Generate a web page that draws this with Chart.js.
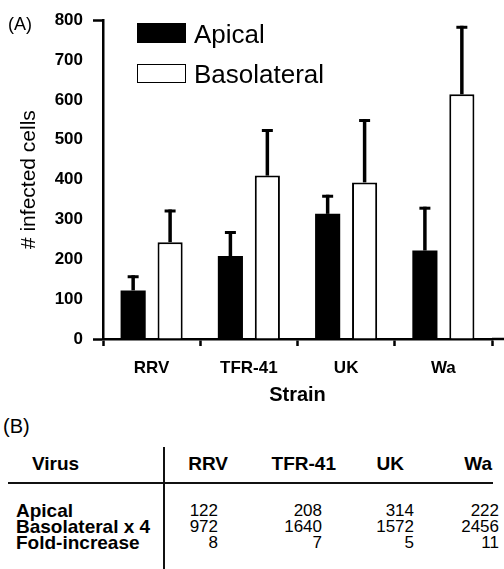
<!DOCTYPE html>
<html>
<head>
<meta charset="utf-8">
<script src="https://cdn.jsdelivr.net/npm/chart.js@4.4.1/dist/chart.umd.min.js"></script>
<style>
body{margin:0;background:#fff;font-family:"Liberation Sans",Arial,sans-serif;color:#000}
#wrap{position:relative;width:504px;height:569px;overflow:hidden;background:#fff}
#chart{position:absolute;left:0;top:0}
.abs{position:absolute;white-space:nowrap}
</style>
</head>
<body>
<div id="wrap">
  <canvas id="chart" width="504" height="410"></canvas>
  <div id="overlay"></div>
</div>
<script>
// Datos del gráfico (A)
const strains=["RRV","TFR-41","UK","Wa"];
const seriesNames=["Apical","Basolateral"];
const apical=[122,208,314,222];
const basolateral=[243,410,393,614];
const apicalErrTop=[160,271,362,332];
const basolateralErrTop=[325,527,552,786];
const yMin=0,yMax=800,yStep=100;

// Datos de la tabla (B)
const tableHead="Virus";
const rowNames=["Apical","Basolateral x 4","Fold-increase"];
const apicalRow=[122,208,314,222];
const basoX4Row=[972,1640,1572,2456];
const foldRow=[8,7,5,11];

const FONT='"Liberation Sans", Arial, sans-serif';

// Barras de error (solo hacia arriba)
const errorBars={id:"errorBars",afterDatasetsDraw(chart){
  const {ctx,scales:{y}}=chart;
  ctx.save();
  ctx.strokeStyle="#000";
  chart.data.datasets.forEach((ds,i)=>{
    chart.getDatasetMeta(i).data.forEach((bar,j)=>{
      const top=y.getPixelForValue(ds.errTop[j]);
      ctx.lineWidth=3.5;
      ctx.beginPath();ctx.moveTo(bar.x,bar.y);ctx.lineTo(bar.x,top);ctx.stroke();
      ctx.lineWidth=3;
      ctx.beginPath();ctx.moveTo(bar.x-5.5,top+1.5);ctx.lineTo(bar.x+5.5,top+1.5);ctx.stroke();
    });
  });
  ctx.restore();
}};

// El eje x sigue hasta el borde derecho
const axisTail={id:"axisTail",afterDraw(chart){
  const {ctx,chartArea}=chart;
  const y0=chart.scales.y.getPixelForValue(0);
  ctx.save();
  ctx.strokeStyle="#000";ctx.lineWidth=2.5;
  ctx.beginPath();ctx.moveTo(chartArea.right,y0);ctx.lineTo(chart.width,y0);ctx.stroke();
  ctx.restore();
}};

new Chart(document.getElementById("chart").getContext("2d"),{
  type:"bar",
  data:{labels:strains,datasets:[
    {label:seriesNames[0],data:apical,errTop:apicalErrTop,backgroundColor:"#000",borderColor:"#000",borderWidth:0},
    {label:seriesNames[1],data:basolateral,errTop:basolateralErrTop,backgroundColor:"#fff",borderColor:"#000",borderWidth:2}
  ]},
  options:{
    responsive:false,animation:false,devicePixelRatio:1,
    layout:{padding:{left:8,right:12,top:14,bottom:0}},
    datasets:{bar:{categoryPercentage:0.76,barPercentage:0.68}},
    plugins:{legend:{display:false},tooltip:{enabled:false}},
    scales:{
      x:{
        grid:{drawOnChartArea:false,tickLength:7,tickWidth:2.5,tickColor:"#000"},
        border:{color:"#000",width:2.5},
        ticks:{color:"#000",font:{family:FONT,size:17,weight:"bold"},padding:12,maxRotation:0},
        title:{display:true,text:"Strain",color:"#000",font:{family:FONT,size:20,weight:"bold"},padding:{top:0,bottom:3}},
        afterFit(s){s.height=71;}
      },
      y:{
        min:yMin,max:yMax,
        grid:{drawOnChartArea:false,tickLength:10,tickWidth:2.5,
          tickColor:c=>(c.tick&&(c.tick.value===yMin||c.tick.value===yMax))?"#000":"rgba(0,0,0,0)"},
        border:{color:"#000",width:2.5},
        ticks:{stepSize:yStep,color:"#000",font:{family:FONT,size:17,weight:"bold"},padding:10},
        title:{display:true,text:"# infected cells",color:"#000",font:{family:FONT,size:21},padding:{top:9,bottom:0}},
        afterFit(s){s.width=95;}
      }
    }
  },
  plugins:[errorBars,axisTail]
});

// Leyenda, etiquetas y tabla
const overlay=document.getElementById("overlay");
function txt(s,left,top,size,weight,right){
  const d=document.createElement("div");
  d.className="abs";
  d.textContent=s;
  d.style.top=top+"px";
  if(right!==undefined){d.style.right=(504-right)+"px";d.style.textAlign="right";}
  else d.style.left=left+"px";
  d.style.fontSize=size+"px";d.style.lineHeight=size+"px";d.style.fontWeight=weight||"normal";
  overlay.appendChild(d);
}
function box(left,top,w,h,bg,border){
  const d=document.createElement("div");
  d.className="abs";
  d.style.cssText+=`left:${left}px;top:${top}px;width:${w}px;height:${h}px;background:${bg};box-sizing:border-box;${border?"border:"+border:""}`;
  overlay.appendChild(d);
}

txt("(A)",8,14.5,18);
box(137,23,49,20,"#000");
box(137,64,49,19,"#fff","1.6px solid #000");
txt(seriesNames[0],194,21,26);
txt(seriesNames[1],194,61,26);

txt("(B)",3,416,20);
const headRight=[228,336,404,492];
const numRight=[218,322,414,499];
txt(tableHead,32,454,19,"bold");
strains.forEach((s,i)=>txt(s,0,454,19,"bold",headRight[i]));
box(8,482,485,2,"#111");
box(163,447,2,122,"#111");
const rows=[apicalRow,basoX4Row,foldRow];
const rowCenter=[510,526,542];
rows.forEach((r,k)=>{
  txt(rowNames[k],16,rowCenter[k]-9.5,19,"bold");
  r.forEach((v,i)=>txt(String(v),0,rowCenter[k]-8.5,17,"normal",numRight[i]));
});
</script>
</body>
</html>
